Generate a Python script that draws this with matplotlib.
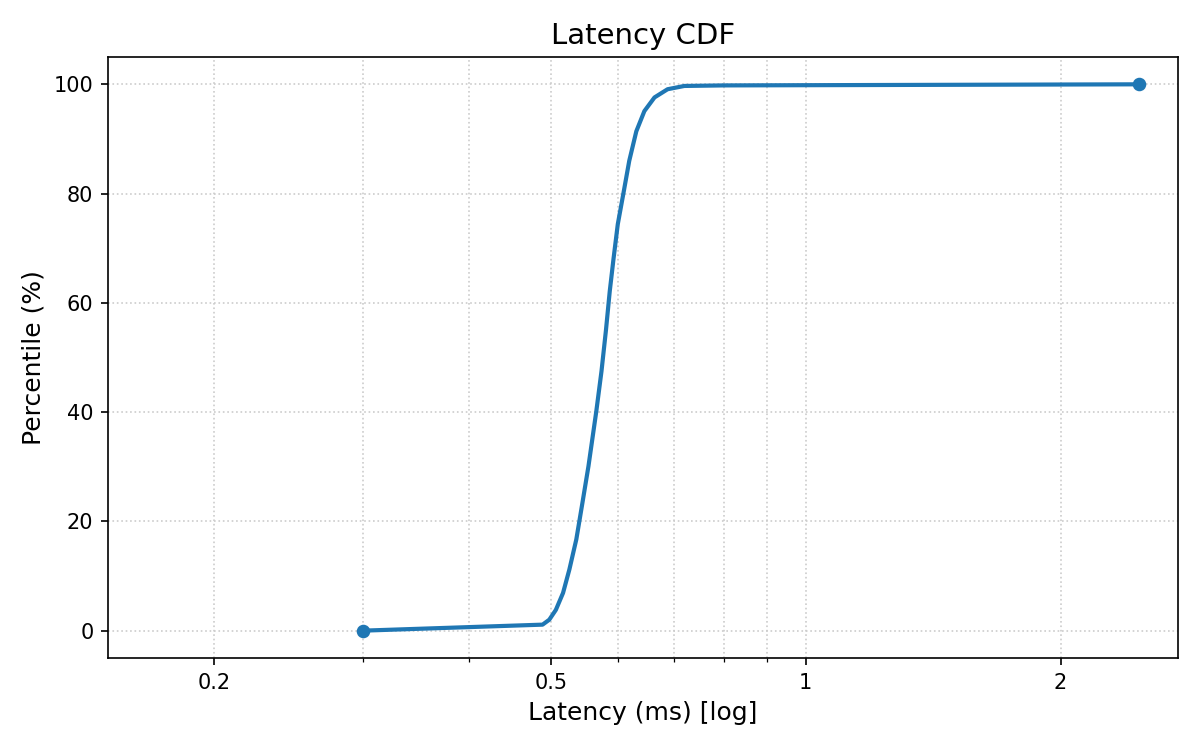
import matplotlib
matplotlib.use("Agg")
import matplotlib.pyplot as plt
from matplotlib.ticker import FixedLocator, FixedFormatter, LogLocator, NullFormatter

# latency (ms) read at each percentile
percentiles = [0, 1.1, 2.0, 3.8, 6.9, 11.2, 16.7, 23.4, 30.1, 40.2, 47.5,
               55.0, 62.1, 68.0, 74.4, 80.5, 86.0, 91.4, 95.1, 97.6, 99.1, 99.7, 99.8, 100]
latency_ms = [0.300, 0.489, 0.498, 0.507, 0.517, 0.526, 0.536, 0.545, 0.554, 0.566, 0.574,
              0.581, 0.587, 0.593, 0.600, 0.610, 0.619, 0.631, 0.645, 0.663, 0.687, 0.719, 0.800, 2.477]

x_ticks = [0.2, 0.5, 1, 2]
x_tick_labels = ["0.2", "0.5", "1", "2"]

fig = plt.figure(figsize=(8, 5), dpi=150)
ax = fig.add_subplot(1, 1, 1)
fig.subplots_adjust(left=0.09, right=0.9817, top=0.924, bottom=0.1227)

ax.plot(latency_ms, percentiles, color="#1f77b4", lw=2,
        marker="o", markersize=5.5, markevery=[0, len(latency_ms) - 1])

ax.set_xscale("log")
ax.set_xlim(0.15, 2.753)
ax.set_ylim(-5, 105)
ax.xaxis.set_major_locator(FixedLocator(x_ticks))
ax.xaxis.set_major_formatter(FixedFormatter(x_tick_labels))
ax.xaxis.set_minor_locator(LogLocator(base=10, subs=range(2, 10)))
ax.xaxis.set_minor_formatter(NullFormatter())

ax.grid(True, which="both", linestyle=":", color="#cccccc", linewidth=0.8)

ax.set_title("Latency CDF", fontsize=14)
ax.set_xlabel("Latency (ms) [log]", fontsize=12)
ax.set_ylabel("Percentile (%)", fontsize=12)

fig.savefig("out.png", dpi=150)
